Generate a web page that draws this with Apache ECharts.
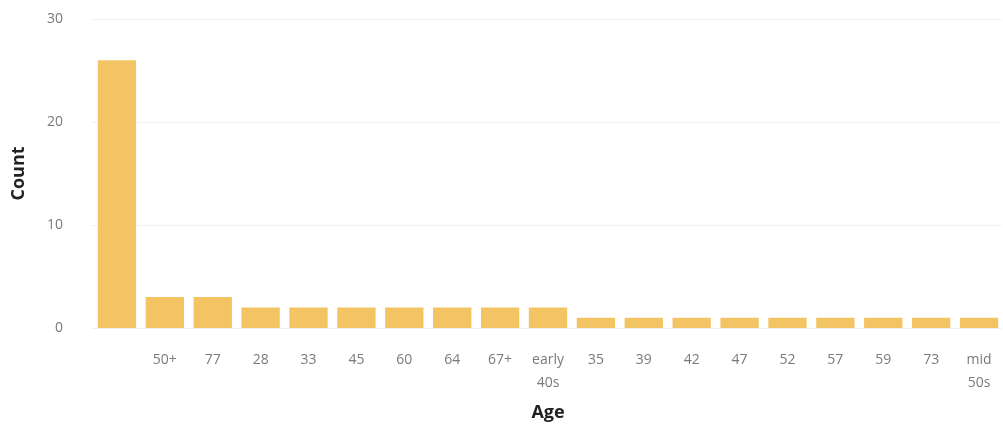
<!DOCTYPE html>
<html>
<head>
<meta charset="utf-8">
<script src="https://cdn.jsdelivr.net/npm/echarts@6/dist/echarts.min.js"></script>
<style>html,body{margin:0;padding:0;background:#fff;}#c{width:1003px;height:427px;}</style>
</head>
<body>
<div id="c"></div>
<script>
const categories = ["", "50+", "77", "28", "33", "45", "60", "64", "67+", "early 40s", "35", "39", "42", "47", "52", "57", "59", "73", "mid 50s"];
const counts = [26, 3, 3, 2, 2, 2, 2, 2, 2, 2, 1, 1, 1, 1, 1, 1, 1, 1, 1];
const yTicks = [0, 10, 20, 30];

const chart = echarts.init(document.getElementById('c'), null, {renderer: 'canvas'});
chart.setOption({
  animation: false,
  grid: {left: 93, top: 19, width: 913, bottom: 99, containLabel: false},
  xAxis: {
    type: 'category',
    data: categories,
    name: 'Age',
    nameLocation: 'middle',
    nameGap: 76,
    nameTextStyle: {fontFamily: 'Open Sans', fontWeight: 'bold', fontSize: 18, color: '#222'},
    axisLine: {show: false},
    axisTick: {show: false},
    axisLabel: {
      interval: 0,
      margin: 21,
      color: '#7a7a7a',
      fontFamily: 'Open Sans',
      fontSize: 14,
      lineHeight: 23,
      formatter: v => v.replace(' ', '\n')
    }
  },
  yAxis: {
    type: 'value',
    min: yTicks[0],
    max: yTicks[yTicks.length - 1],
    interval: 10,
    name: 'Count',
    nameLocation: 'middle',
    nameGap: 65,
    nameTextStyle: {fontFamily: 'Open Sans', fontWeight: 'bold', fontSize: 18, color: '#222'},
    axisLine: {show: false},
    axisTick: {show: false},
    axisLabel: {color: '#7a7a7a', fontFamily: 'Open Sans', fontSize: 14, margin: 30},
    splitLine: {show: true, lineStyle: {color: '#e2e2e2', type: 'dotted', width: 1}}
  },
  series: [{
    type: 'bar',
    data: counts,
    barCategoryGap: '20%',
    itemStyle: {color: '#f2c463'}
  }]
});
</script>
</body>
</html>
